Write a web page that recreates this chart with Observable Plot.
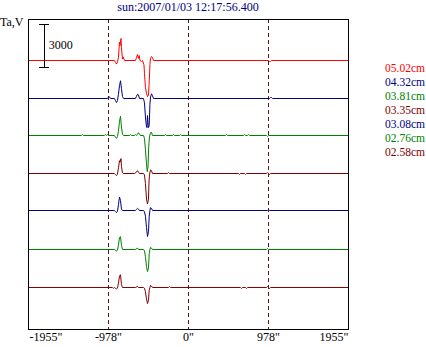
<!DOCTYPE html>
<html>
<head>
<meta charset="utf-8">
<script src="https://cdn.jsdelivr.net/npm/d3@7"></script>
<script src="https://cdn.jsdelivr.net/npm/@observablehq/plot@0.6"></script>
<style>
  html, body { margin: 0; padding: 0; background: #fff; }
  #wrap { position: relative; width: 426px; height: 347px; overflow: hidden; font-family: "Liberation Serif", "DejaVu Serif", serif; }
  #title { position: absolute; left: 28px; width: 320px; top: 0px; text-align: center; font-size: 12px; line-height: 14px; color: #000080; }
  #ylab { position: absolute; left: 0px; top: 15px; font-size: 12px; line-height: 14px; color: #000; }
  #legend { position: absolute; left: 385px; top: 61px; font-size: 11.5px; line-height: 14px; white-space: nowrap; }
</style>
</head>
<body>
<div id="wrap">
  <div id="chart"></div>
  <div id="title"></div>
  <div id="ylab"></div>
  <div id="legend"></div>
</div>
<script>
// ---- data ----
const titleText = "sun:2007/01/03 12:17:56.400";
const yLabel = "Ta,V";
const channels = ["05.02cm", "04.32cm", "03.81cm", "03.35cm", "03.08cm", "02.76cm", "02.58cm"];
const colors = ["#ff0000", "#000080", "#008000", "#800000", "#000080", "#008000", "#800000"];
const offsets = [18943, 16267, 13661, 10985, 8380, 5634, 2958];
const xTicks = [-1955, -978, 0, 978, 1955];
const dashedAt = [-978, 0, 978];
const scaleValue = 3000;
const scaleBottom = 18450;
const scaleX = -1757;

const red502 = [[-1955,0],[-905,0],[-892,-150],[-880,-250],[-868,-100],[-856,200],[-843,1300],[-837,1050],[-825,1550],[-819,900],[-807,100],[-798,250],[-782,0],[-648,0],[-636,200],[-623,420],[-611,150],[-602,350],[-593,0],[-575,-70],[-562,0],[-544,-300],[-538,-900],[-526,-1900],[-513,-2300],[-501,-2550],[-489,-2450],[-480,-1500],[-471,-300],[-464,150],[-452,280],[-440,200],[-428,0],[978,0],[990,-70],[1002,-70],[1015,0],[1955,0]];
const blue432 = [[-1955,0],[-990,0],[-978,100],[-966,120],[-954,0],[-905,0],[-892,-150],[-880,-280],[-868,-150],[-856,300],[-843,900],[-831,1250],[-819,700],[-807,150],[-794,0],[-648,0],[-636,150],[-623,300],[-611,250],[-599,0],[-550,0],[-538,-300],[-526,-1300],[-513,-2000],[-507,-2050],[-501,-1200],[-495,-1700],[-489,-2050],[-480,-1900],[-471,-400],[-464,100],[-452,330],[-440,200],[-428,0],[990,0],[1002,70],[1015,70],[1027,0],[1955,0]];
const green381 = [[-1955,0],[-1308,0],[-1296,70],[-1284,0],[-1027,0],[-1015,70],[-1003,0],[-990,70],[-978,0],[-905,0],[-892,-120],[-880,-200],[-868,-80],[-856,300],[-843,1000],[-831,1350],[-819,600],[-807,100],[-794,0],[-721,0],[-709,70],[-697,0],[-660,0],[-648,70],[-636,0],[-623,100],[-611,200],[-599,100],[-587,0],[-550,0],[-538,-200],[-526,-1000],[-513,-2000],[-504,-2550],[-495,-2200],[-486,-800],[-477,-100],[-464,200],[-452,220],[-440,0],[-293,0],[-281,70],[-269,0],[-196,0],[-183,70],[-171,0],[-110,0],[-98,70],[-86,0],[452,0],[465,70],[477,0],[672,0],[685,70],[697,0],[721,0],[733,70],[746,0],[954,0],[966,-70],[978,0],[1955,0]];
const dred335 = [[-1955,0],[-905,0],[-892,-80],[-880,-150],[-868,-50],[-856,400],[-843,900],[-837,800],[-825,1050],[-819,500],[-807,50],[-794,0],[-660,0],[-636,100],[-623,200],[-611,100],[-599,0],[-550,0],[-538,-100],[-526,-700],[-513,-1800],[-501,-2150],[-489,-1800],[-483,-600],[-477,-100],[-464,250],[-452,200],[-440,0],[-257,0],[-245,70],[-232,0],[611,0],[623,-70],[636,0],[685,0],[697,-70],[709,0],[954,0],[966,70],[978,0],[990,-70],[1002,0],[1955,0]];
const blue308 = [[-1955,0],[-905,0],[-892,-80],[-880,-150],[-868,-50],[-856,400],[-843,950],[-831,700],[-819,100],[-807,0],[-648,0],[-636,80],[-623,150],[-611,100],[-599,0],[-550,0],[-538,-100],[-526,-400],[-513,-1200],[-501,-1830],[-489,-1500],[-480,-400],[-471,0],[-464,200],[-452,150],[-440,0],[966,0],[978,70],[990,0],[1955,0]];
const green276 = [[-1955,0],[-905,0],[-892,-60],[-880,-100],[-868,-50],[-856,300],[-843,850],[-831,900],[-819,300],[-807,0],[-648,0],[-623,100],[-611,0],[-550,0],[-538,-100],[-526,-500],[-513,-1200],[-501,-1550],[-489,-1300],[-480,-300],[-471,0],[-464,150],[-452,100],[-440,0],[954,0],[966,70],[978,0],[1955,0]];
const dred258 = [[-1955,0],[-930,0],[-917,-60],[-905,0],[-892,-60],[-880,-100],[-868,-50],[-856,300],[-843,800],[-831,900],[-819,200],[-807,0],[-648,0],[-623,80],[-611,0],[-550,0],[-538,-50],[-526,-300],[-513,-800],[-501,-1130],[-489,-900],[-480,-200],[-471,0],[-464,150],[-452,100],[-440,0],[-245,0],[-232,70],[-220,0],[636,0],[648,-70],[660,0],[697,0],[709,-70],[721,0],[954,0],[966,70],[978,0],[990,-70],[1002,0],[1955,0]];
const traces = [red502, blue432, green381, dred335, blue308, green276, dred258];

// ---- build ----
const ff = '"Liberation Serif", "DejaVu Serif", serif';
const cap = 61;

const lineMarks = traces.map((tr, i) =>
  Plot.line(tr, {x: d => d[0], y: d => offsets[i] + d[1], stroke: colors[i], strokeWidth: 1})
);

const chart = Plot.plot({
  width: 426,
  height: 347,
  marginLeft: 28,
  marginRight: 78,
  marginTop: 19,
  marginBottom: 18,
  x: {domain: [-1955, 1955], axis: null},
  y: {domain: [0, 21830], axis: null},
  style: {fontFamily: ff, fontSize: "12px", background: "white", overflow: "visible"},
  marks: [
    Plot.ruleX(dashedAt, {stroke: "#5c1616", strokeDasharray: "4,3", strokeWidth: 1, shapeRendering: "crispEdges"}),
    ...lineMarks,
    Plot.frame({stroke: "black", strokeWidth: 1, shapeRendering: "crispEdges"}),
    Plot.ruleX([scaleX], {y1: scaleBottom, y2: scaleBottom + scaleValue, stroke: "black", shapeRendering: "crispEdges"}),
    Plot.ruleY([scaleBottom, scaleBottom + scaleValue], {x1: scaleX - cap, x2: scaleX + cap, stroke: "black", shapeRendering: "crispEdges"}),
    Plot.text([String(scaleValue)], {x: scaleX + cap, y: scaleBottom + scaleValue / 2, textAnchor: "start", dx: -1, dy: -1, fill: "black", fontSize: 12}),
    Plot.text(xTicks.slice(1, -1), {x: d => d, frameAnchor: "bottom", dy: 11, text: d => d + '"', textAnchor: "middle", fill: "black", fontSize: 12}),
    Plot.text(xTicks.slice(0, 1), {x: d => d, frameAnchor: "bottom", dy: 11, text: d => d + '"', textAnchor: "start", dx: 1, fill: "black", fontSize: 12}),
    Plot.text(xTicks.slice(-1), {x: d => d, frameAnchor: "bottom", dy: 11, text: d => d + '"', textAnchor: "end", fill: "black", fontSize: 12})
  ]
});
document.getElementById("chart").appendChild(chart);
document.getElementById("title").textContent = titleText;
document.getElementById("ylab").textContent = yLabel;
const leg = document.getElementById("legend");
channels.forEach((c, i) => {
  const d = document.createElement("div");
  d.textContent = c;
  d.style.color = colors[i];
  leg.appendChild(d);
});
</script>
</body>
</html>
